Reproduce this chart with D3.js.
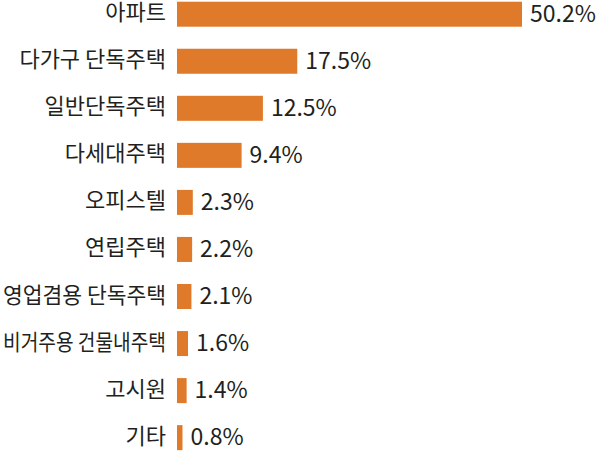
<!DOCTYPE html>
<html>
<head>
<meta charset="utf-8">
<script src="https://cdn.jsdelivr.net/npm/d3@7"></script>
<style>
	body { margin: 0; background: #fff; }
	svg { display: block; }
</style>
</head>
<body>
<script>
// housing types and their share (%)
const housingTypes = [
	"아파트",
	"다가구 단독주택",
	"일반단독주택",
	"다세대주택",
	"오피스텔",
	"연립주택",
	"영업겸용 단독주택",
	"비거주용 건물내주택",
	"고시원",
	"기타",
];
const shareValues = [50.2, 17.5, 12.5, 9.4, 2.3, 2.2, 2.1, 1.6, 1.4, 0.8];

const barColor = "#e07a2b";
const textColor = "#231f20";

const width = 600;
const height = 475;
const barLeft = 177;
const labelRight = 166;
const labelMaxWidth = 163;
const rowTop = 14.2;
const rowStep = 47.05;
const barHeight = 25;

const svg = d3
	.select("body")
	.append("svg")
	.attr("width", width)
	.attr("height", height);

const x = d3.scaleLinear().domain([0, 50.2]).range([0, 345]);

const y = d3
	.scalePoint()
	.domain(housingTypes)
	.range([rowTop, rowTop + rowStep * (housingTypes.length - 1)]);

const rows = svg
	.selectAll("g.row")
	.data(housingTypes.map((name, i) => ({ name, value: shareValues[i] })))
	.join("g")
	.attr("class", "row")
	.attr("transform", (d) => `translate(0,${y(d.name)})`);

rows
	.append("rect")
	.attr("x", barLeft)
	.attr("y", -barHeight / 2)
	.attr("width", (d) => x(d.value))
	.attr("height", barHeight)
	.attr("fill", barColor);

// category labels, right aligned; squeeze the long one so it fits
rows
	.append("text")
	.attr("x", labelRight)
	.attr("y", 6)
	.attr("text-anchor", "end")
	.style("font-family", "'Noto Sans CJK KR', 'Noto Sans', sans-serif")
	.style("font-size", "22px")
	.style("fill", textColor)
	.text((d) => d.name)
	.each(function () {
		const len = this.getComputedTextLength();
		if (len > labelMaxWidth) {
			d3.select(this)
				.attr("textLength", labelMaxWidth)
				.attr("lengthAdjust", "spacingAndGlyphs");
		}
	});

// value labels
rows
	.append("text")
	.attr("x", (d) => barLeft + x(d.value) + 8)
	.attr("y", 7.5)
	.style("font-family", "'Noto Sans CJK KR', 'Noto Sans', sans-serif")
	.style("font-size", "23px")
	.style("fill", textColor)
	.text((d) => `${d.value}%`);
</script>
</body>
</html>
